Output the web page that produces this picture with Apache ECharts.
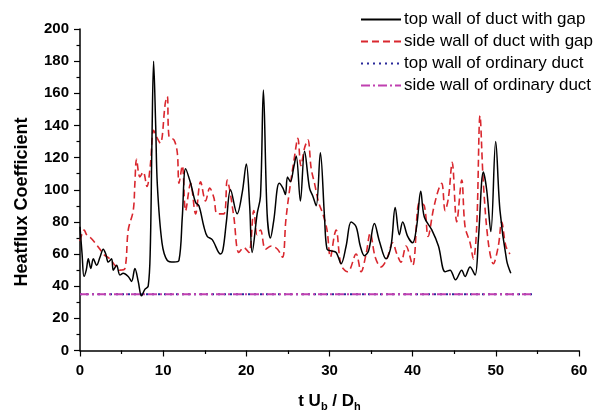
<!DOCTYPE html>
<html><head><meta charset="utf-8">
<script src="https://cdn.jsdelivr.net/npm/echarts@6/dist/echarts.min.js"></script>
<style>html,body{margin:0;padding:0;background:#fff}#c{width:598px;height:417px}</style>
</head><body><div id="c"></div>
<script>
const xTicks = [0, 10, 20, 30, 40, 50, 60];
const yTicks = [0, 20, 40, 60, 80, 100, 120, 140, 160, 180, 200];
const seriesNames = ["top wall of duct with gap", "side wall of duct with gap", "top wall of ordinary duct", "side wall of ordinary duct"];
const yTitle = "Heatflux Coefficient";

const tTopGap = [0,0.25,0.48,0.75,1.0,1.3,1.6,2.0,2.4,2.8,3.1,3.4,3.8,4.0,4.4,4.8,5.2,5.8,6.2,6.6,7.0,7.4,7.8,8.2,8.45,8.65,8.85,9.1,9.3,9.86,10.5,11.3,11.9,12.3,12.7,13.3,13.9,14.3,14.9,15.3,15.9,16.9,17.2,17.6,18.1,18.9,19.5,20.0,20.4,20.7,21.3,21.7,22.05,22.5,22.9,23.3,23.95,24.4,24.7,24.95,25.3,25.7,26.0,26.5,27.0,27.6,28.0,28.4,28.9,29.4,29.7,30.2,30.8,31.4,32.0,32.6,33.2,33.7,34.2,34.7,35.4,36.0,36.8,37.4,37.9,38.4,38.8,39.4,40.0,40.5,40.97,41.4,42.3,43.1,43.9,44.5,45.15,45.9,46.3,46.9,47.5,47.9,48.5,48.9,49.4,49.98,50.5,51.3,51.8];
const vTopGap = [77,60,46,50,57,51,57,53,58,63,60,55,57,50,53,47,48,46,43,51,43,34,38,40,63,130,180,140,103,67,56,55,56,83,113,104,92,90,77,71,69,60,63,80,100,85,98,116,90,61,85,96,162,85,70,81,104,101,97,108,105,114,121,93,124,101,96,90,123,83,63,62,61,54,65,80,77,65,59,62,79,68,57,65,89,72,80,71,67,78,99,83,75,65,49,50,44,50,46,52,47,69,111,100,74,130,87,56,48];

const tSideGap = [0,0.5,0.8,1.3,1.8,2.4,2.8,3.6,4.2,4.8,5.4,5.8,6.4,6.6,6.8,7.2,7.6,8.05,8.45,8.85,9.2,9.66,10.26,10.5,10.7,11.3,11.7,11.9,12.3,12.7,13.3,13.9,14.5,15.1,15.6,16.1,16.5,17.3,17.7,18.0,18.5,19.1,19.7,20.3,20.9,21.3,21.7,22.3,23.0,23.75,24.35,24.75,25.15,25.75,26.2,26.56,27.0,27.4,27.8,28.2,28.7,29.2,29.7,30.1,30.6,30.8,31.4,32.2,33.2,33.8,34.4,34.9,35.5,36.2,36.9,37.6,38.1,38.6,39.2,40.0,40.8,41.4,41.85,42.5,43.1,43.5,43.9,44.3,44.75,45.3,45.9,46.3,46.9,47.3,47.7,48.1,48.5,49.1,49.7,50.3,50.7,51.2,51.7];
const vSideGap = [68,75,72,70,67,63,60,57,53,50,51,75,87,104,119,108,111,102,115,137,133,129,154,158,133,131,123,104,115,87,104,85,105,93,101,95,85,85,106,100,83,61,64,61,87,72,75,63,65,63,58,81,98,119,132,115,126,131,113,104,92,85,75,58,72,75,53,49,60,49,60,73,58,52,57,67,60,55,65,53,92,90,71,88,100,104,87,95,117,80,106,77,67,57,77,146,104,67,54,65,80,65,60];

const tOrd = [0,5,10,15,20,25,30,35,40,45,50,54.5];
const vTopOrd = [35,35,35,35,35,35,35,35,35,35,35,35];
const vSideOrd = [35,35,35,35,35,35,35,35,35,35,35,35];

const pairs = (t, v) => t.map((x, i) => [x, v[i]]);
const FONT = '"Liberation Sans", Arial, sans-serif';
const tickStyle = {color: '#000', width: 1.2};

const chart = echarts.init(document.getElementById('c'), null, {renderer: 'canvas'});
chart.setOption({
  animation: false,
  backgroundColor: '#fff',
  grid: {left: 80, right: 19, top: 29, bottom: 64, containLabel: false},
  legend: {
    orient: 'vertical', left: 355, top: 6, itemWidth: 40, itemHeight: 10, itemGap: 5,
    itemStyle: {opacity: 0},
    textStyle: {fontFamily: FONT, fontSize: 17, lineHeight: 17, color: '#000', padding: [0,0,0,-2]},
    data: seriesNames
  },
  graphic: [{
    type: 'text', x: 22, y: 202, rotation: Math.PI / 2,
    style: {text: yTitle, font: 'bold 18px ' + FONT, fill: '#000', align: 'center', verticalAlign: 'middle'}
  }],
  xAxis: {
    type: 'value', min: 0, max: 60, interval: 10,
    axisLine: {show: true, lineStyle: {color: '#000', width: 1.5}},
    axisTick: {show: true, inside: false, length: 6, lineStyle: tickStyle},
    minorTick: {show: true, splitNumber: 2, length: 3.5, lineStyle: tickStyle},
    splitLine: {show: false},
    axisLabel: {fontFamily: FONT, fontSize: 15, fontWeight: 'bold', color: '#000', margin: 13,
      formatter: v => xTicks.includes(v) ? String(v) : ''},
    name: '{n|t U}{s|b}{n| / D}{s|h}', nameLocation: 'middle', nameGap: 40,
    nameTextStyle: {
      rich: {
        n: {fontFamily: FONT, fontSize: 17, fontWeight: 'bold', color: '#000', lineHeight: 22},
        s: {fontFamily: FONT, fontSize: 11, fontWeight: 'bold', color: '#000', lineHeight: 22, padding: [10,0,0,0]}
      }
    }
  },
  yAxis: {
    type: 'value', min: 0, max: 200, interval: 20,
    axisLine: {show: true, lineStyle: {color: '#000', width: 1.5}},
    axisTick: {show: true, inside: false, length: 6, lineStyle: tickStyle},
    minorTick: {show: true, splitNumber: 2, length: 3.5, lineStyle: tickStyle},
    splitLine: {show: false},
    axisLabel: {fontFamily: FONT, fontSize: 15, fontWeight: 'bold', color: '#000', margin: 11,
      formatter: v => yTicks.includes(v) ? String(v) : ''}
  },
  series: [
    {name: seriesNames[0], type: 'line', data: pairs(tTopGap, vTopGap), showSymbol: false, symbol: 'none', smooth: 0.35,
     lineStyle: {color: '#000', width: 1.5}, itemStyle: {color: '#000'}, z: 4},
    {name: seriesNames[1], type: 'line', data: pairs(tSideGap, vSideGap), showSymbol: false, symbol: 'none', smooth: 0.35,
     lineStyle: {color: '#d9272e', width: 1.6, type: [7, 4]}, itemStyle: {color: '#d9272e'}, z: 3},
    {name: seriesNames[2], type: 'line', data: pairs(tOrd, vTopOrd), showSymbol: false, symbol: 'none',
     lineStyle: {color: '#2a2a9a', width: 1.8, type: [2, 4]}, itemStyle: {color: '#2a2a9a'}, z: 2},
    {name: seriesNames[3], type: 'line', data: pairs(tOrd, vSideOrd), showSymbol: false, symbol: 'none',
     lineStyle: {color: '#c040b0', width: 1.8, type: [9, 3, 2, 3]}, itemStyle: {color: '#c040b0'}, z: 2}
  ]
});
</script></body></html>
